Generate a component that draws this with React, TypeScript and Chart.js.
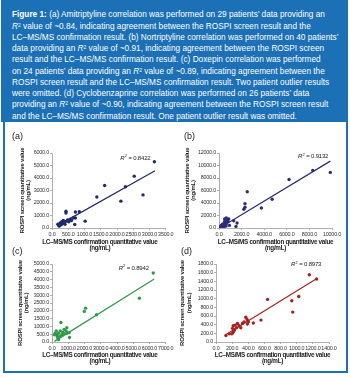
import React, { useEffect, useRef } from "react";
import { Chart, registerables } from "chart.js";
Chart.register(...registerables);

const BLUE = "#1c70b6";
const FONT = "'Liberation Sans', Arial, sans-serif";

const captionLines = [
  "§Figure 1:§ (a) Amitriptyline correlation was performed on 29 patients’ data providing an",
  "R² value of ~0.84, indicating agreement between the ROSPI screen result and the",
  "LC–MS/MS confirmation result. (b) Nortriptyline correlation was performed on 40 patients’",
  "data providing an R² value of ~0.91, indicating agreement between the ROSPI screen",
  "result and the LC–MS/MS confirmation result. (c) Doxepin correlation was performed",
  "on 24 patients’ data providing an R² value of ~0.89, indicating agreement between the",
  "ROSPI screen result and the LC–MS/MS confirmation result. Two patient outlier results",
  "were omitted. (d) Cyclobenzaprine correlation was performed on 26 patients’ data",
  "providing an R² value of ~0.90, indicating agreement between the ROSPI screen result",
  "and the LC–MS/MS confirmation result. One patient outlier result was omitted.",
];

const xTitleLines = ["LC–MS/MS confirmation quantitative value", "(ng/mL)"];
const yTitleLines = ["ROSPI screen quantitative value", "(ng/mL)"];

// Panel (a) Amitriptyline
const aX = [3150, 2530, 2260, 2800, 2120, 1620, 1380, 1020, 840, 720, 720, 700, 430, 430, 180, 220, 250, 280, 300, 330, 350, 380, 400, 450, 480, 520, 560, 600, 650];
const aY = [5300, 4150, 3300, 2650, 2150, 3400, 2480, 550, 1300, 1280, 800, 280, 1350, 1200, 300, 150, 400, 250, 500, 350, 600, 450, 300, 550, 650, 500, 700, 600, 800];
const aTrendX = [170, 3170];
const aTrendY = [190, 4580];
const aXTicks = [0, 500, 1000, 1500, 2000, 2500, 3000, 3500];
const aYTicks = [0, 1000, 2000, 3000, 4000, 5000, 6000];
const aR2 = "0.8422";

// Panel (b) Nortriptyline
const bX = [9850, 8300, 6200, 4700, 3750, 2500, 2300, 2300, 2200, 1300, 1600, 1500, 920, 650, 740, 800, 650, 500, 860, 500, 100, 150, 200, 250, 300, 350, 380, 400, 450, 480, 520, 550, 580, 600, 620, 200, 300, 420, 120, 700];
const bY = [8900, 9200, 7750, 4600, 3200, 5800, 3900, 3330, 3000, 1160, 800, 260, 420, 1590, 1320, 1060, 800, 1430, 1430, 1060, 100, 50, 150, 250, 200, 300, 400, 150, 500, 350, 600, 450, 700, 300, 550, 400, 600, 700, 250, 900];
const bTrendX = [100, 9850];
const bTrendY = [50, 10700];
const bXTicks = [0, 2000, 4000, 6000, 8000, 10000];
const bYTicks = [0, 2000, 4000, 6000, 8000, 10000, 12000];
const bR2 = "0.9132";

// Panel (c) Doxepin
const cX = [6230, 5380, 2740, 2070, 1990, 550, 1050, 1075, 910, 750, 870, 670, 510, 405, 265, 200, 300, 345, 405, 470, 610, 710, 910, 140];
const cY = [4420, 2810, 1750, 2170, 1960, 1250, 600, 290, 920, 810, 710, 625, 710, 560, 710, 560, 420, 290, 150, 350, 460, 540, 560, 460];
const cTrendX = [150, 6290];
const cTrendY = [40, 4040];
const cXTicks = [0, 1000, 2000, 3000, 4000, 5000, 6000, 7000];
const cYTicks = [0, 500, 1000, 1500, 2000, 2500, 3000, 3500, 4000, 4500, 5000];
const cR2 = "0.8942";

// Panel (d) Cyclobenzaprine
const dX = [1156, 1246, 1025, 939, 951, 639, 557, 463, 369, 385, 402, 389, 328, 307, 266, 238, 213, 205, 230, 213, 197, 164, 123, 254, 287, 348];
const dY = [1553, 1455, 1050, 953, 690, 983, 505, 440, 570, 518, 465, 413, 428, 330, 428, 390, 375, 315, 278, 225, 188, 188, 150, 330, 375, 465];
const dTrendX = [120, 1250];
const dTrendY = [165, 1465];
const dXTicks = [0, 200, 400, 600, 800, 1000, 1200, 1400];
const dYTicks = [0, 200, 400, 600, 800, 1000, 1200, 1400, 1600, 1800];
const dR2 = "0.8973";

const condense = {
  id: "condense",
  beforeDraw(chart: any) {
    (chart.ctx as any).letterSpacing = "-0.2px";
  },
};

const annot = {
  id: "annot",
  afterDraw(chart: any, _args: any, o: any) {
    const { ctx, chartArea, scales } = chart;
    ctx.save();
    ctx.fillStyle = "#222";
    ctx.textBaseline = "middle";
    // R² label
    const px = scales.x.getPixelForValue(o.r2At[0]);
    const py = scales.y.getPixelForValue(o.r2At[1]);
    ctx.textAlign = "left";
    (ctx as any).letterSpacing = "-0.2px";
    ctx.font = `italic 6px ${FONT}`;
    ctx.fillText("R", px, py);
    const w = ctx.measureText("R").width;
    ctx.font = `4px ${FONT}`;
    ctx.fillText("2", px + w + 0.3, py - 2);
    const w2 = ctx.measureText("2").width;
    ctx.font = `6px ${FONT}`;
    ctx.fillText(" = " + o.r2, px + w + w2 + 0.6, py);
    // x axis title
    const cx = (chartArea.left + chartArea.right) / 2 + o.titleDx;
    ctx.textAlign = "center";
    (ctx as any).letterSpacing = "-0.3px";
    ctx.font = `bold 6.3px ${FONT}`;
    o.xTitle.forEach((t: string, i: number) => {
      ctx.fillText(t, cx, chartArea.bottom + o.titleDy + i * 6.5);
    });
    ctx.restore();
  },
};

type P = {
  xs: number[]; ys: number[]; tx: number[]; ty: number[];
  xt: number[]; yt: number[]; r2: string; r2At: number[];
  color: string; padTop: number; padRight: number; yW: number; xH: number;
  yTitlePad: number; titleDx: number; titleDy: number;
};

function makeConfig(p: P): any {
  const axisColor = "#9a9a9a";
  const tickFont = { family: FONT, size: 5.4 };
  return {
    type: "scatter",
    data: {
      datasets: [
        {
          type: "line",
          data: p.tx.map((x, i) => ({ x, y: p.ty[i] })),
          borderColor: p.color,
          borderWidth: 1.2,
          pointRadius: 0,
          fill: false,
        },
        {
          type: "scatter",
          data: p.xs.map((x, i) => ({ x, y: p.ys[i] })),
          backgroundColor: p.color,
          borderColor: p.color,
          pointRadius: 1.7,
          borderWidth: 0,
        },
      ],
    },
    options: {
      animation: false,
      responsive: false,
      devicePixelRatio: 1,
      layout: { autoPadding: false, padding: { left: 0, top: p.padTop, right: p.padRight, bottom: 0 } },
      plugins: {
        legend: { display: false },
        tooltip: { enabled: false },
        annot: { r2: p.r2, r2At: p.r2At, xTitle: xTitleLines, titleDx: p.titleDx, titleDy: p.titleDy },
      },
      scales: {
        x: {
          type: "linear",
          min: p.xt[0],
          max: p.xt[p.xt.length - 1],
          afterBuildTicks: (s: any) => { s.ticks = p.xt.map((v) => ({ value: v })); },
          afterFit: (s: any) => { s.height = p.xH; },
          ticks: { font: tickFont, color: "#333", padding: 1, maxRotation: 0, minRotation: 0, autoSkip: false, callback: (v: any) => Number(v).toFixed(1) },
          grid: { drawOnChartArea: false, tickLength: 2, color: axisColor, lineWidth: 0.8 },
          border: { color: axisColor, width: 0.8 },
        },
        y: {
          type: "linear",
          min: p.yt[0],
          max: p.yt[p.yt.length - 1],
          afterBuildTicks: (s: any) => { s.ticks = p.yt.map((v) => ({ value: v })); },
          afterFit: (s: any) => { s.width = p.yW; },
          ticks: { font: tickFont, color: "#333", padding: 1, autoSkip: false, callback: (v: any) => Number(v).toFixed(1) },
          grid: { drawOnChartArea: false, tickLength: 2, color: axisColor, lineWidth: 0.8 },
          border: { color: axisColor, width: 0.8 },
          title: {
            display: true,
            text: yTitleLines,
            color: "#222",
            font: { family: FONT, size: 6, weight: "bold", lineHeight: 1.15 },
            padding: { top: p.yTitlePad, bottom: 0 },
          },
        },
      },
    },
    plugins: [condense, annot],
  };
}

function Panel(props: { p: P; left: number; top: number; width: number; height: number; label: string; lx: number; ly: number }) {
  const ref = useRef<HTMLCanvasElement>(null);
  useEffect(() => {
    const chart = new Chart(ref.current as HTMLCanvasElement, makeConfig(props.p));
    return () => chart.destroy();
  }, []);
  return (
    <>
      <canvas
        ref={ref}
        width={props.width}
        height={props.height}
        style={{ position: "absolute", left: props.left, top: props.top, width: props.width, height: props.height }}
      />
      <div
        style={{
          position: "absolute",
          left: props.lx,
          top: props.ly,
          font: `9px ${FONT}`,
          color: "#222",
          lineHeight: "10px",
        }}
      >
        {props.label}
      </div>
    </>
  );
}

function CaptionLine({ text }: { text: string }) {
  const parts: React.ReactNode[] = [];
  let rest = text;
  let k = 0;
  if (rest.startsWith("§")) {
    const end = rest.indexOf("§", 1);
    parts.push(<b key={k++}>{rest.slice(1, end)}</b>);
    rest = rest.slice(end + 1);
  }
  const segs = rest.split("R²");
  segs.forEach((s, i) => {
    if (i > 0) {
      parts.push(
        <span key={k++}>
          <i>R</i>
          <sup style={{ fontSize: "0.6em", verticalAlign: "0.5em", lineHeight: 0 }}>2</sup>
        </span>
      );
    }
    parts.push(<span key={k++}>{s}</span>);
  });
  return <div style={{ whiteSpace: "nowrap", height: 11.25, lineHeight: "11.25px" }}>{parts}</div>;
}

export default function App() {
  useEffect(() => {
    document.body.style.margin = "0";
  }, []);
  const pa: P = { xs: aX, ys: aY, tx: aTrendX, ty: aTrendY, xt: aXTicks, yt: aYTicks, r2: aR2, r2At: [2100, 5600], color: "#1f2a6b", padTop: 23, padRight: 8, yW: 52, xH: 30, yTitlePad: 18.4, titleDx: -9, titleDy: 14 };
  const pb: P = { xs: bX, ys: bY, tx: bTrendX, ty: bTrendY, xt: bXTicks, yt: bYTicks, r2: bR2, r2At: [7000, 11400], color: "#2b2d7c", padTop: 23, padRight: 15, yW: 44, xH: 30, yTitlePad: 8.4, titleDx: 0, titleDy: 14 };
  const pc: P = { xs: cX, ys: cY, tx: cTrendX, ty: cTrendY, xt: cXTicks, yt: cYTicks, r2: cR2, r2At: [4100, 4750], color: "#2f9a48", padTop: 9, padRight: 9, yW: 52, xH: 29, yTitlePad: 16.4, titleDx: -9, titleDy: 13 };
  const pd: P = { xs: dX, ys: dY, tx: dTrendX, ty: dTrendY, xt: dXTicks, yt: dYTicks, r2: dR2, r2At: [930, 1790], color: "#a4221f", padTop: 9, padRight: 18, yW: 41, xH: 29, yTitlePad: 3.6, titleDx: 0, titleDy: 13 };
  return (
    <div style={{ position: "relative", width: 350, height: 377, background: "#fff", overflow: "hidden" }}>
      <div style={{ position: "absolute", left: 3, top: 0, width: 345, height: 373, border: `2px solid ${BLUE}`, boxSizing: "border-box" }} />
      <div
        style={{
          position: "absolute",
          left: 1,
          top: 0,
          width: 347,
          height: 122,
          background: BLUE,
          color: "#fff",
          font: `8.25px ${FONT}`,
          padding: "9.4px 0 0 11px",
          boxSizing: "border-box",
          overflow: "hidden",
        }}
      >
        {captionLines.map((t, i) => (
          <CaptionLine key={i} text={t} />
        ))}
      </div>
      <Panel p={pa} left={0} top={130} width={175} height={128} label="(a)" lx={12} ly={131} />
      <Panel p={pb} left={175} top={130} width={172} height={128} label="(b)" lx={184} ly={131} />
      <Panel p={pc} left={0} top={255} width={175} height={116} label="(c)" lx={12} ly={246} />
      <Panel p={pd} left={175} top={255} width={172} height={116} label="(d)" lx={181} ly={246} />
    </div>
  );
}
